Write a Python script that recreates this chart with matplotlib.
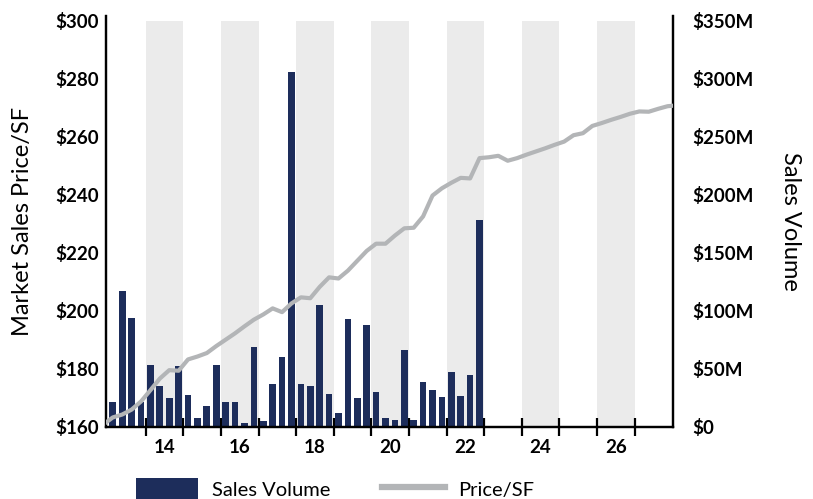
import matplotlib
matplotlib.use("Agg")
import matplotlib.pyplot as plt
from matplotlib.patches import Patch
from matplotlib.lines import Line2D
from matplotlib.ticker import FixedLocator, NullFormatter

# ---------------- data ----------------
# Quarterly sales volume ($M), 2013 Q1 .. 2022 Q4
volume_start_year = 2013
sales_volume_m = [
    21.5, 117.6, 94.3, 21.5,      # 2013
    53.6, 35.0, 24.9, 52.5,       # 2014
    27.8, 7.5, 18.3, 53.6,        # 2015
    21.5, 21.5, 3.4, 69.1,        # 2016
    5.2, 36.7, 60.2, 306.2,       # 2017
    37.2, 35.0, 105.5, 28.4,      # 2018
    12.0, 92.9, 24.7, 88.3,       # 2019
    30.1, 8.0, 5.8, 66.2,         # 2020
    6.3, 38.7, 31.6, 26.1,        # 2021
    47.6, 26.7, 45.0, 178.0,      # 2022
]

# Quarterly market sale price per SF, 2012 Q4 .. 2028 Q1
price_start = (2012, 4)
price_sf = [
    160.9,
    163.3, 164.3, 166.0, 168.8,   # 2013
    172.7, 176.7, 179.6, 179.4,   # 2014
    183.3, 184.3, 185.5, 187.9,   # 2015
    190.1, 192.3, 194.7, 197.0,   # 2016
    198.8, 200.9, 199.6, 202.6,   # 2017
    204.7, 204.4, 208.3, 211.6,   # 2018
    211.2, 213.9, 217.3, 220.7,   # 2019
    223.2, 223.2, 226.0, 228.5,   # 2020
    228.7, 232.6, 239.8, 242.3,   # 2021
    244.2, 245.9, 245.7, 252.7,   # 2022
    253.0, 253.5, 251.8, 252.7,   # 2023
    253.9, 255.0, 256.1, 257.3,   # 2024
    258.4, 260.6, 261.3, 263.8,   # 2025
    264.8, 265.9, 266.9, 268.0,   # 2026
    268.8, 268.7, 269.7, 270.6,   # 2027
    270.9,
]

year_tick_labels = ["14", "16", "18", "20", "22", "24", "26"]
shaded_years = [2014, 2016, 2018, 2020, 2022, 2024, 2026]
price_ticks = [160, 180, 200, 220, 240, 260, 280, 300]
volume_ticks = [0, 50, 100, 150, 200, 250, 300, 350]

# ---------------- style ----------------
NAVY = "#1d2d5b"
LINE_GRAY = "#b3b5b7"
BAND_GRAY = "#ebebeb"
plt.rcParams["font.family"] = ["Lato", "DejaVu Sans"]


def yr(year):
    return year - 2000


def quarter_center(year, q):
    return yr(year) + (q - 0.5) / 4.0


vol_x = [quarter_center(volume_start_year + i // 4, i % 4 + 1)
         for i in range(len(sales_volume_m))]
py, pq = price_start
price_x = []
for i in range(len(price_sf)):
    idx = (pq - 1) + i
    price_x.append(quarter_center(py + idx // 4, idx % 4 + 1))

fig = plt.figure(figsize=(8.13, 4.99), dpi=100)
ax2 = fig.add_axes([0.1304, 0.1443, 0.6974, 0.8236])   # volume (right)
ax = ax2.twinx()                                         # price (left)
ax.yaxis.tick_left()
ax.yaxis.set_label_position("left")
ax2.yaxis.tick_right()
ax2.yaxis.set_label_position("right")

x_min, x_max = yr(2013) - 0.056, yr(2028) + 0.02
p_lo, p_hi, p_top = 160, 300, 301.7
v_hi = 350
ax2.set_xlim(x_min, x_max)
ax.set_ylim(p_lo, p_top)
ax2.set_ylim(0, v_hi * (p_top - p_lo) / (p_hi - p_lo))

# shaded year bands + bars (volume axis)
for y in shaded_years:
    ax2.fill_between([yr(y), yr(y) + 1], 0, v_hi, color=BAND_GRAY,
                     lw=0, zorder=0)
ax2.bar(vol_x, sales_volume_m, width=0.178, color=NAVY, zorder=2)

# price line on top
ax.plot(price_x, price_sf, color=LINE_GRAY, lw=3.0, zorder=3)

# spines
for a in (ax, ax2):
    a.spines["top"].set_visible(False)
    for s in ("left", "right", "bottom"):
        a.spines[s].set_linewidth(1.6)
        a.spines[s].set_color("black")

# x ticks: marks at year boundaries, labels centred in years
ax2.xaxis.set_major_locator(FixedLocator([yr(y) for y in range(2014, 2028)]))
ax2.xaxis.set_major_formatter(NullFormatter())
ax2.xaxis.set_minor_locator(
    FixedLocator([yr(2000 + int(s)) + 0.5 for s in year_tick_labels]))
ax2.set_xticklabels(year_tick_labels, minor=True)
ax2.tick_params(axis="x", which="major", direction="inout", length=13,
                width=1.6, color="black")
ax2.tick_params(axis="x", which="minor", length=0, pad=9, labelsize=13.5)
for t in ax2.get_xticklabels(minor=True):
    t.set_fontweight("bold")
ax.tick_params(axis="x", which="both", length=0, labelbottom=False)

# y ticks
ax.set_yticks(price_ticks)
ax.set_yticklabels([f"${v}" for v in price_ticks])
ax.tick_params(axis="y", length=0, pad=5, labelsize=13.5)
for t in ax.get_yticklabels():
    t.set_fontweight("bold")
ax2.set_yticks(volume_ticks)
ax2.set_yticklabels(["$0" if v == 0 else f"${v}M" for v in volume_ticks])
ax2.tick_params(axis="y", length=0, pad=14, labelsize=13.5)
for t in ax2.get_yticklabels():
    t.set_fontweight("bold")

ax.set_ylabel("Market Sales Price/SF", fontsize=17, labelpad=16)
ax2.set_ylabel("Sales Volume", fontsize=17, rotation=-90, labelpad=34)

# legend
handles = [Patch(facecolor=NAVY, edgecolor="none", label="Sales Volume"),
           Line2D([0], [0], color=LINE_GRAY, lw=4.5, label="Price/SF")]
fig.legend(handles=handles, loc="center", bbox_to_anchor=(0.412, 0.02),
           ncol=2, frameon=False, handlelength=3.1,
           handleheight=1.3, handletextpad=0.65, columnspacing=2.6,
           prop={"size": 14.5})

fig.savefig("out.png", dpi=100)
